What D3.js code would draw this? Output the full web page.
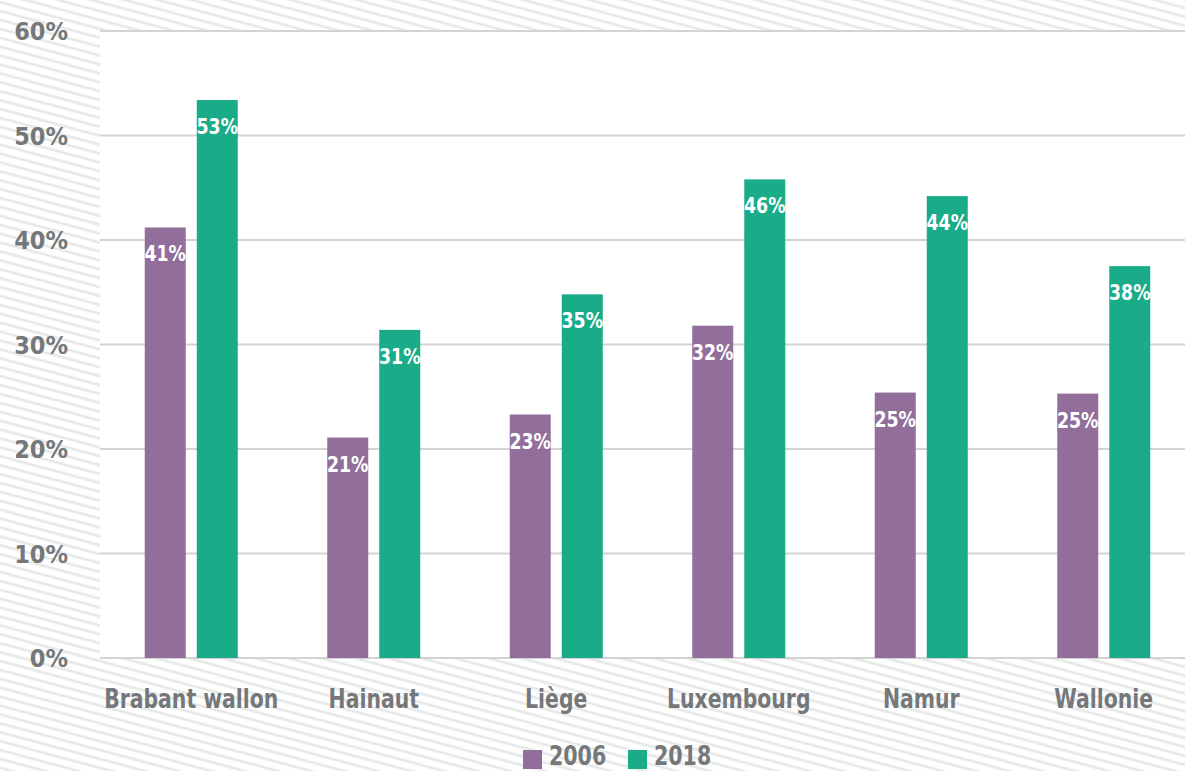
<!DOCTYPE html>
<html>
<head>
<meta charset="utf-8">
<script src="https://cdn.jsdelivr.net/npm/d3@7"></script>
<style>
  html, body { margin: 0; padding: 0; background: #fff; }
  svg { display: block; }
  text { font-family: "Liberation Sans Narrow", "DejaVu Sans Condensed", "Roboto Condensed", sans-serif; font-weight: bold; }
</style>
</head>
<body>
<svg id="chart" width="1185" height="771"></svg>
<script>
const categories = ["Brabant wallon", "Hainaut", "Liège", "Luxembourg", "Namur", "Wallonie"];
const seriesNames = ["2006", "2018"];
const values2006 = [41.2, 21.1, 23.3, 31.8, 25.4, 25.3];
const values2018 = [53.4, 31.4, 34.8, 45.8, 44.2, 37.5];
const labels2006 = ["41%", "21%", "23%", "32%", "25%", "25%"];
const labels2018 = ["53%", "31%", "35%", "46%", "44%", "38%"];
const yTicks = [0, 10, 20, 30, 40, 50, 60];
const colors = ["#926e9b", "#1aab88"];

const W = 1185, H = 771;
const margin = { left: 100, right: -10, top: 31, bottom: 113 };
const svg = d3.select("#chart");
const FONT = '"Liberation Sans Narrow", "DejaVu Sans Condensed", sans-serif';

// hatched background
const defs = svg.append("defs");
const pat = defs.append("pattern")
  .attr("id", "hatch")
  .attr("patternUnits", "userSpaceOnUse")
  .attr("width", 40).attr("height", 8.6)
  .attr("patternTransform", "rotate(15)");
pat.append("rect").attr("width", 40).attr("height", 8.6).attr("fill", "#ffffff");
pat.append("line").attr("x1", 0).attr("x2", 40).attr("y1", 2).attr("y2", 2)
  .attr("stroke", "#e6e7e7").attr("stroke-width", 2.6);
svg.append("rect").attr("width", W).attr("height", H).attr("fill", "url(#hatch)");

const y = d3.scaleLinear().domain([0, 60]).range([H - margin.bottom, margin.top]);
const x0 = d3.scaleBand().domain(categories).range([margin.left, W - margin.right]).padding(0);
const groupW = 93;
const x1 = d3.scaleBand().domain(seriesNames)
  .range([x0.bandwidth() / 2 - groupW / 2, x0.bandwidth() / 2 + groupW / 2])
  .paddingInner(0.212).paddingOuter(0);

// plot area
svg.append("rect")
  .attr("x", margin.left).attr("y", y(60))
  .attr("width", W - margin.left - margin.right).attr("height", y(0) - y(60))
  .attr("fill", "#ffffff");

// gridlines
svg.append("g").selectAll("line").data(yTicks).join("line")
  .attr("x1", margin.left).attr("x2", W - margin.right)
  .attr("y1", d => y(d)).attr("y2", d => y(d))
  .attr("stroke", "#d3d3d3").attr("stroke-width", 2);

// y axis labels
const yAxis = d3.axisLeft(y).tickValues(yTicks).tickFormat(d => d + "%").tickSize(0).tickPadding(0);
const yg = svg.append("g").attr("transform", `translate(68,0)`).call(yAxis);
yg.select(".domain").remove();
yg.selectAll("text")
  .attr("x", 0).attr("fill", "#75787b").attr("font-size", 25).attr("dy", "0.35em")
  .style("font-family", FONT).style("font-weight", "bold");

// x axis labels
const xAxis = d3.axisBottom(x0).tickSize(0).tickPadding(0);
const xg = svg.append("g").attr("transform", `translate(0,${y(0)})`).call(xAxis);
xg.select(".domain").remove();
xg.selectAll("text")
  .attr("y", 50).attr("dy", 0)
  .attr("fill", "#75787b").attr("font-size", 27)
  .attr("transform", "scale(0.84,1)")
  .style("font-family", FONT).style("font-weight", "bold");

// bars
const rows = categories.map((c, i) => ({
  cat: c,
  vals: [
    { s: seriesNames[0], v: values2006[i], l: labels2006[i], c: colors[0] },
    { s: seriesNames[1], v: values2018[i], l: labels2018[i], c: colors[1] }
  ]
}));
const groups = svg.append("g").selectAll("g").data(rows).join("g")
  .attr("transform", d => `translate(${x0(d.cat)},0)`);
groups.selectAll("rect").data(d => d.vals).join("rect")
  .attr("x", d => x1(d.s)).attr("width", x1.bandwidth())
  .attr("y", d => y(d.v)).attr("height", d => y(0) - y(d.v))
  .attr("fill", d => d.c);
groups.selectAll("text").data(d => d.vals).join("text")
  .attr("transform", d => `translate(${x1(d.s) + x1.bandwidth() / 2},${y(d.v) + 34}) scale(0.92,1)`)
  .attr("text-anchor", "middle")
  .attr("fill", "#ffffff").attr("font-size", 21)
  .text(d => d.l);

// legend
const legend = svg.append("g");
const legendItems = [
  { name: seriesNames[0], c: colors[0], x: 523 },
  { name: seriesNames[1], c: colors[1], x: 628 }
];
legend.selectAll("rect").data(legendItems).join("rect")
  .attr("x", d => d.x).attr("y", 750).attr("width", 19).attr("height", 19)
  .attr("fill", d => d.c);
legend.selectAll("text").data(legendItems).join("text")
  .attr("transform", d => `translate(${d.x + 26},765) scale(0.88,1)`)
  .attr("fill", "#75787b").attr("font-size", 26)
  .text(d => d.name);
</script>
</body>
</html>
